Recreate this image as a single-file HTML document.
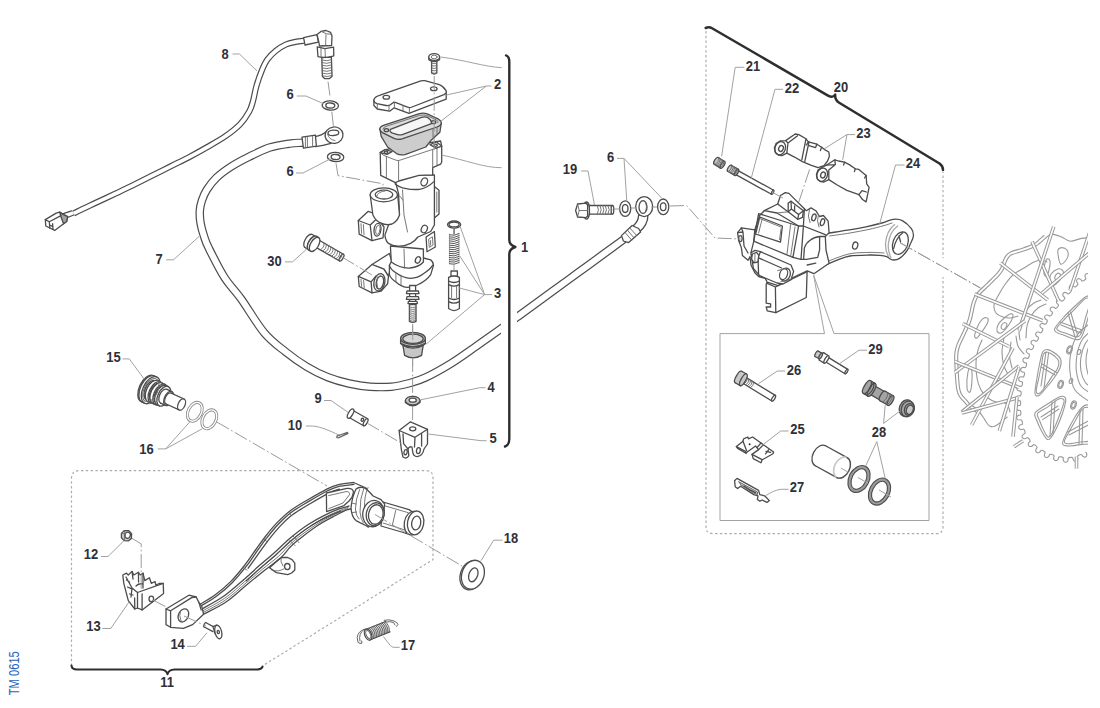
<!DOCTYPE html>
<html lang="en"><head><meta charset="utf-8"><title>Rear brake system - TM 0615</title>
<style>
html,body{margin:0;padding:0;background:#fff}
body{width:1100px;height:708px;overflow:hidden}
svg{display:block}
text{font-family:"Liberation Sans",sans-serif;font-weight:bold;font-size:13.8px;fill:#2e3138}
.o{fill:#fff;stroke:#4c4c4c;stroke-width:1.3;stroke-linejoin:round;stroke-linecap:round}
.l{fill:none;stroke:#4c4c4c;stroke-width:1.3;stroke-linejoin:round;stroke-linecap:round}
.t{fill:none;stroke:#686868;stroke-width:.9;stroke-linejoin:round;stroke-linecap:round}
.g{fill:#c9c9c9;stroke:#4c4c4c;stroke-width:1.3;stroke-linejoin:round}
.g2{fill:#a4a4a4;stroke:#4c4c4c;stroke-width:1.3;stroke-linejoin:round}
.ld{fill:none;stroke:#a2a2a2;stroke-width:1}
.cl{fill:none;stroke:#9a9a9a;stroke-width:1;stroke-dasharray:14 2.6 1.6 2.6}
.dt{fill:none;stroke:#acacac;stroke-width:1.2;stroke-dasharray:2.4 2.4}
.bk{fill:none;stroke:#2e2e2e;stroke-width:2.5;stroke-linejoin:round;stroke-linecap:round}
.w{fill:none;stroke:#999;stroke-width:1.1;stroke-linejoin:round;stroke-linecap:round}
.ww{fill:#fff;stroke:#999;stroke-width:1.1;stroke-linejoin:round}
.tm{font-weight:normal;font-size:14px;fill:#2563b8}
</style></head><body>
<svg width="1100" height="708" viewBox="0 0 1100 708">
<rect width="1100" height="708" fill="#fff"/>
<g id="parts_wheel">
<clipPath id="wc"><rect x="940" y="200" width="148" height="280"/></clipPath>
<g clip-path="url(#wc)">
<path class="w" d="M1090,237.4C1088.6,237.6 1084.7,237.8 1081.4,238.4C1078.1,239 1073.4,241.4 1070.1,241.2C1066.8,240.9 1064.7,238.1 1061.6,236.9C1058.5,235.7 1054.3,234 1051.7,234.1C1049.1,234.2 1048,236.2 1046,237.7C1044,239.2 1041.9,241.5 1040,243C1038.1,244.5 1037.5,245.5 1034.7,246.8C1031.9,248.2 1027.2,249.8 1023.4,251.1C1019.6,252.4 1014.6,253.5 1012.1,254.6C1009.6,255.7 1009.3,256.5 1008.4,257.6C1007.5,258.7 1007.3,259.1 1006.5,261C1005.7,262.9 1004.8,266.6 1003.6,269C1002.4,271.4 1001.2,273 999.4,275.1C997.6,277.2 994.9,279.7 993,281.6C991.1,283.5 990.6,283.9 988.1,286.4C985.6,288.8 980.4,293.2 978.2,296.3C976,299.4 975.9,300.8 974.7,304.7C973.5,308.6 972.7,315.3 971.2,320C969.7,324.7 967.6,328.8 965.7,333C963.8,337.2 961.3,341.5 960,345C958.7,348.5 958.1,350.5 957.8,354C957.5,357.5 957.9,362 958,366C958.1,370 958.3,374.1 958.6,378C958.9,381.9 959.2,386.5 959.8,389.3C960.4,392.1 961,393.4 962,395C963,396.6 964.5,397.9 965.7,399.2C966.9,400.5 967.9,401.9 969,403C970.1,404.1 971.1,404.8 972.6,406C974.1,407.2 976.3,408.2 978,410C979.7,411.8 981.4,414.7 983,417C984.6,419.3 986.2,422.4 987.5,424C988.8,425.6 989.7,426.3 991,426.6C992.3,426.9 993.7,426.8 995.4,426C997.1,425.2 999,423.5 1001,422C1003,420.5 1006.2,417.8 1007.2,417"/>
<path class="w" d="M1044,235.5C1043,236.3 1039.9,239.2 1038.1,240.7C1036.3,242.1 1036,242.8 1033.4,244.1C1030.8,245.4 1026.2,247 1022.4,248.3C1018.7,249.6 1013.6,250.6 1010.9,251.8C1008.2,253.1 1007.3,254.3 1006.1,255.6C1004.9,257 1004.6,257.8 1003.7,259.8C1002.9,261.8 1002,265.4 1000.9,267.7C999.8,269.9 998.8,271.2 997.1,273.2C995.4,275.1 992.7,277.6 990.9,279.5C989,281.3 988.5,281.8 986,284.3C983.5,286.8 978.1,291.3 975.8,294.5C973.4,297.8 973.1,299.8 971.8,303.9C970.6,307.9 969.8,314.4 968.3,319.1C966.9,323.7 964.8,327.6 963,331.8C961.1,335.9 958.6,340.3 957.2,343.9C955.8,347.6 955.2,350 954.8,353.7C954.4,357.4 954.9,362 955,366.1C955.1,370.2 955.3,374.3 955.6,378.2C955.9,382.2 956.2,386.8 956.9,389.9C957.5,392.9 958.3,394.7 959.4,396.5C960.5,398.4 962.2,399.7 963.4,401.2C964.7,402.6 965.7,403.9 966.9,405.1C968.1,406.3 969.2,407.2 970.8,408.4C972.3,409.6 975.3,411.7 976.2,412.4"/>
<path class="w" d="M1047,262C1046,261.7 1043.2,260 1041,260C1038.8,260 1036.8,260.7 1034,262C1031.2,263.3 1027.3,266 1024,268C1020.7,270 1017,271.5 1014,274C1011,276.5 1008.7,279.3 1006,283C1003.3,286.7 1000,292.3 998,296C996,299.7 994.3,302.2 994,305C993.7,307.8 994.5,311 996,313C997.5,315 1000.5,316.2 1003,317C1005.5,317.8 1008.5,318.2 1011,318C1013.5,317.8 1016.8,316.3 1018,316"/>
<path class="w" d="M982,340C981.3,341.7 979,346.3 978,350C977,353.7 976.2,357.3 976,362C975.8,366.7 976.2,373.3 977,378C977.8,382.7 979.2,386.7 981,390C982.8,393.3 985.5,396 988,398C990.5,400 993.5,401.3 996,402C998.5,402.7 1001,401.3 1003,402C1005,402.7 1006.8,404.3 1008,406C1009.2,407.7 1009.7,411 1010,412"/>
<path class="w" d="M1058,250C1058.6,248.3 1060.5,247.6 1062,247.6C1063.5,247.6 1066,248.6 1067,250C1068,251.4 1068.4,254 1068,256C1067.6,258 1065.8,260.7 1064.6,262C1063.4,263.3 1061.6,264.7 1060.6,264C1059.6,263.3 1059,260.3 1058.6,258C1058.2,255.7 1057.4,251.7 1058,250Z"/>
<path class="w" d="M1047,259C1047.9,258.3 1049.7,259.2 1050,261C1050.3,262.8 1049.6,267.5 1049,270C1048.4,272.5 1047.4,275.3 1046.6,276C1045.8,276.7 1044.3,275.8 1044,274C1043.7,272.2 1044.1,267.5 1044.6,265C1045.1,262.5 1046.1,259.7 1047,259Z"/>
<path class="w" d="M980,322C981.2,320.2 982.7,318.6 984,318C985.3,317.4 987.5,317.6 988,318.6C988.5,319.6 988.2,321.6 987,324C985.8,326.4 982.7,330.7 981,333C979.3,335.3 978.1,337.5 977,338C975.9,338.5 974.7,337.5 974.6,336C974.5,334.5 975.7,331.3 976.6,329C977.5,326.7 978.8,323.8 980,322Z"/>
<path class="w" d="M1002,320C1004,318.2 1008.2,314.7 1010,314C1011.8,313.3 1013.3,314 1013,316C1012.7,318 1010,323.2 1008,326C1006,328.8 1002.8,332.2 1001,333C999.2,333.8 997.5,332.3 997,331C996.5,329.7 997.2,326.8 998,325C998.8,323.2 1000,321.8 1002,320Z"/>
<ellipse class="w" cx="1004" cy="326" rx="2.4" ry="3.6" transform="rotate(30 1004 326)"/>
<path class="w" d="M1051,274C1052.4,272.2 1056,269.5 1058,269C1060,268.5 1062.3,269.7 1063,271C1063.7,272.3 1063.2,274.8 1062,277C1060.8,279.2 1057.8,282.7 1056,284C1054.2,285.3 1052.1,285.7 1051,285C1049.9,284.3 1049.6,281.8 1049.6,280C1049.6,278.2 1049.6,275.8 1051,274Z"/>
<ellipse class="w" cx="1057.6" cy="276.6" rx="2.4" ry="3.6" transform="rotate(30 1057.6 276.6)"/>
<path class="w" d="M968,372C968.7,368.7 970.3,366.7 971,368C971.7,369.3 972.2,376 972,380C971.8,384 970.8,390.7 970,392C969.2,393.3 967.3,391.3 967,388C966.7,384.7 967.3,375.3 968,372Z"/>
<path class="w" d="M1041,300C1039.8,300.5 1036.3,301.5 1034,303C1031.7,304.5 1029,306.5 1027,309C1025,311.5 1023.3,314.5 1022,318C1020.7,321.5 1019.3,326.3 1019,330C1018.7,333.7 1019.8,338.3 1020,340"/>
<path class="w" d="M1046,304C1044.7,304.7 1040.5,306 1038,308C1035.5,310 1032.8,313 1031,316C1029.2,319 1027.8,322.3 1027,326C1026.2,329.7 1026.2,336 1026,338"/>
<path class="w" d="M1016,336C1016.3,337.7 1016.7,343 1018,346C1019.3,349 1023,352.7 1024,354"/>
<path class="w" d="M1004,338C1003.7,340.3 1002,347.3 1002,352C1002,356.7 1003,362.3 1004,366C1005,369.7 1007.3,372.7 1008,374"/>
<path class="w" d="M1011,342C1010.8,344.3 1009.4,351.7 1009.6,356C1009.8,360.3 1011.6,366 1012,368"/>
<path class="w" d="M1090,276C1088.5,271.4 1083.1,274 1085.7,278.1C1087,279.1 1081.9,282.2 1081.6,280.6C1079.2,276.4 1074.4,279.9 1077.7,283.4C1079.2,284.2 1074.8,288.2 1074.2,286.6C1071.1,282.9 1067,287.2 1070.8,290.1C1072.4,290.8 1068.4,295.2 1067.6,293.7C1064.4,290.1 1060.5,294.6 1064.5,297.3C1066.1,297.9 1062.2,302.4 1061.3,300.9C1058.1,297.3 1054.2,301.7 1058.1,304.5C1059.7,305.1 1055.9,309.7 1055,308.2C1051.7,304.7 1047.9,309.4 1052,311.9C1053.7,312.4 1050.3,317.2 1049.3,315.8C1045.5,312.9 1042.4,318 1046.8,319.9C1048.5,320.2 1045.6,325.4 1044.5,324.2C1040.5,321.4 1037.8,326.7 1042.3,328.4C1044,328.6 1041.4,334 1040.2,332.7C1036.1,330.1 1033.5,335.4 1038,337C1039.7,337.3 1036.8,342.5 1035.7,341.2C1031.9,338.2 1028.8,343.3 1033.2,345.3C1034.9,345.6 1031.9,350.8 1030.8,349.5C1026.7,346.9 1024.2,352.3 1028.7,353.8C1030.5,353.8 1028.4,359.4 1027.1,358.3C1022.7,356.4 1021,362.1 1025.7,362.9C1027.5,362.7 1026.1,368.5 1024.6,367.6C1020.1,366.1 1018.9,371.9 1023.7,372.3C1025.4,372.1 1024.1,377.9 1022.7,377C1018.1,375.4 1016.9,381.2 1021.7,381.7C1023.4,381.4 1022.2,387.3 1020.8,386.4C1016.1,385.2 1015.3,391.1 1020.1,391.1C1021.8,390.7 1021.3,396.6 1019.7,395.9C1014.9,395.1 1014.7,401.1 1019.5,400.7C1021.1,400.2 1021,406.1 1019.4,405.5C1014.6,405.1 1014.7,411 1019.5,410.3C1021,409.6 1021.6,415.5 1019.9,415.1C1015.1,415.2 1016,421.1 1020.6,419.8C1022.1,418.9 1023.3,424.8 1021.6,424.5C1016.9,425.2 1018.4,431 1022.8,429.2C1024.2,428.1 1026.1,433.7 1024.4,433.7C1019.9,435.5 1022.8,440.7 1026.7,437.9C1027.6,436.5 1031.3,441.1 1029.7,441.7C1025.9,444.6 1030.1,448.8 1033.1,445.1C1033.7,443.4 1038.3,447.2 1036.8,448.1C1033.6,451.7 1038.5,455.1 1040.8,450.8C1041,449.1 1046.3,452 1045,453.1C1042.6,457.3 1048,459.6 1049.4,455C1049.4,453.3 1055,455.1 1054,456.5C1052.2,461 1057.9,462.5 1058.6,457.7C1058.3,456 1064.2,457 1063.3,458.5C1062.5,463.3 1068.4,463.6 1068.1,458.8C1067.4,457.2 1073.3,456.8 1072.9,458.4C1073.6,463.2 1079.3,461.6 1077.5,457.2C1076.3,456 1081.7,453.4 1081.9,455.1C1084.1,459.4 1089,456 1085.8,452.4"/>
<path class="w" d="M1054.7,328.7C1055.7,326.3 1059.8,321.6 1063,318C1066.2,314.4 1070.3,310.5 1074,307C1077.7,303.5 1082.7,298.8 1085.4,297C1088.1,295.2 1088.9,295.5 1090,296C1091.1,296.5 1092.3,296.3 1092,300C1091.7,303.7 1089.7,312 1088,318C1086.3,324 1083.9,332.4 1082,336C1080.1,339.6 1079.2,339.6 1076.5,339.6C1073.8,339.6 1069.2,337.2 1066,336C1062.8,334.8 1058.9,333.8 1057,332.6C1055.1,331.4 1053.7,331.1 1054.7,328.7Z"/>
<path class="w" d="M1057.1,327.6C1058.1,325.5 1062.7,321.2 1065.6,318.2C1068.5,315.2 1071.2,312.7 1074.3,309.6C1077.4,306.4 1081.9,301.3 1084.3,299.4C1086.7,297.5 1087.6,297.8 1088.6,298.2C1089.6,298.6 1090.8,298.6 1090.3,302C1089.8,305.3 1086.9,312.9 1085.4,318.2C1083.9,323.5 1082.6,330.4 1081.1,333.6C1079.5,336.7 1078.7,337 1076.4,337C1074.1,337 1070.1,334.7 1067.3,333.7C1064.4,332.7 1060.8,332.1 1059.1,331C1057.4,330 1056,329.7 1057.1,327.6Z"/>
<path class="w" d="M1035,393.3C1034.7,390.4 1036.2,383.2 1037,378C1037.8,372.8 1039,366.4 1040,362C1041,357.6 1041.5,353.9 1042.8,351.8C1044.1,349.7 1045.6,349.2 1047.8,349.6C1050,350 1053.8,352.3 1056,354C1058.2,355.7 1060.1,357.4 1060.8,359.7C1061.5,362 1061.1,364.9 1060,368C1058.9,371.1 1056.3,374.7 1054,378C1051.7,381.3 1048.5,385.1 1046,388C1043.5,390.9 1040.7,394.7 1038.9,395.6C1037.1,396.5 1035.3,396.2 1035,393.3Z"/>
<path class="w" d="M1036.2,391C1036.1,388.2 1038.2,381 1039.1,376.5C1040,372 1040.9,367.7 1041.6,364C1042.4,360.3 1042.4,356.3 1043.4,354.3C1044.4,352.4 1045.8,351.9 1047.7,352.2C1049.6,352.5 1052.9,354.8 1054.8,356.3C1056.6,357.8 1058.3,359.3 1058.8,361.3C1059.2,363.4 1058.6,366.1 1057.5,368.5C1056.4,371 1054.1,373.3 1052.2,376.1C1050.3,378.9 1048.3,382.6 1046.2,385.4C1044.1,388.2 1041.4,392.2 1039.7,393.1C1038.1,394.1 1036.3,393.8 1036.2,391Z"/>
<path class="w" d="M1035,413C1036.6,410.5 1042,407.6 1046,405C1050,402.4 1055.7,398.6 1058.7,397.2C1061.7,395.8 1062.8,396.1 1064,396.6C1065.2,397.1 1066,397.3 1065.8,400C1065.6,402.7 1064.1,408.5 1062.6,413C1061.1,417.5 1059,422.9 1057,427C1055,431.1 1052.5,435.8 1050.8,437.8C1049.1,439.8 1048.4,440.3 1046.8,439C1045.2,437.7 1042.7,433.2 1041,430C1039.3,426.8 1037.6,422.8 1036.6,420C1035.6,417.2 1033.4,415.5 1035,413Z"/>
<path class="w" d="M1037.6,413.5C1038.9,411.5 1043.7,409.7 1047.1,407.4C1050.5,405 1055.2,401.1 1057.8,399.6C1060.3,398.2 1061.5,398.4 1062.6,398.8C1063.6,399.2 1064.5,399.5 1064.1,401.9C1063.7,404.4 1061.5,409.9 1060.1,413.7C1058.7,417.5 1057.3,421.1 1055.8,424.7C1054.2,428.3 1052.3,433.2 1050.9,435.2C1049.4,437.2 1048.7,437.7 1047.3,436.4C1045.9,435.2 1043.9,430.8 1042.6,427.9C1041.2,425.1 1040,421.8 1039.1,419.4C1038.3,417 1036.2,415.5 1037.6,413.5Z"/>
<path class="w" d="M1062.6,442.7C1062.8,440.1 1065.9,434.3 1068,430C1070.1,425.7 1072.6,420.8 1075,417C1077.4,413.2 1080.2,409 1082.4,407C1084.6,405 1086.1,404.5 1088,405C1089.9,405.5 1093,404.2 1094,410C1095,415.8 1096.3,434.2 1094,440C1091.7,445.8 1084.6,443.6 1080,444.6C1075.4,445.6 1069.5,446.2 1066.6,445.9C1063.7,445.6 1062.4,445.3 1062.6,442.7Z"/>
<path class="w" d="M1064.5,440.9C1064.9,438.5 1068.6,432.9 1070.5,429.3C1072.4,425.7 1074.1,422.7 1076,419.4C1077.9,416.1 1080.1,411.6 1082,409.6C1083.8,407.6 1085.3,407 1087,407.4C1088.7,407.8 1091.4,406.8 1092.3,411.9C1093.1,417.1 1094.1,433.3 1092,438.3C1090,443.3 1083.9,441.1 1079.8,442C1075.8,442.9 1070.6,443.9 1068,443.7C1065.5,443.5 1064.1,443.3 1064.5,440.9Z"/>
<path class="w" d="M1060,322 L1082,330 M1061,325 L1081,333 M1068,313 L1075,337 M1070.6,312 L1078,336.6 M1041,367 L1055,375 M1042,364 L1056.6,372.4 M1046,352 L1041,386 M1048.6,353 L1044,388 M1041,417 L1058,406 M1042.6,419.6 L1059,409 M1052,402 L1050,436 M1055,401 L1053,434 M1068,432 L1090,420 M1069,435 L1090,424 M1080,410 L1079,444 M1083,409 L1082,444"/>
<ellipse class="w" cx="1069.5" cy="349.8" rx="2.6" ry="4.2" transform="rotate(20 1069.5 349.8)"/>
<ellipse class="w" cx="1069.5" cy="349.8" rx="1.6" ry="3" transform="rotate(20 1069.5 349.8)"/>
<ellipse class="w" cx="1060.6" cy="384.4" rx="2.6" ry="4.2" transform="rotate(20 1060.6 384.4)"/>
<ellipse class="w" cx="1060.6" cy="384.4" rx="1.6" ry="3" transform="rotate(20 1060.6 384.4)"/>
<ellipse class="w" cx="1073.5" cy="405" rx="2.6" ry="4.2" transform="rotate(20 1073.5 405)"/>
<ellipse class="w" cx="1073.5" cy="405" rx="1.6" ry="3" transform="rotate(20 1073.5 405)"/>
<ellipse class="w" cx="1079" cy="352" rx="1.6" ry="2.6" transform="rotate(20 1079 352)"/>
<ellipse class="w" cx="1071" cy="381" rx="1.6" ry="2.6" transform="rotate(20 1071 381)"/>
<path class="w" d="M1092,330C1090.3,331.7 1084.5,335.8 1082,340C1079.5,344.2 1077.9,349.7 1077,355C1076.1,360.3 1075.8,366.8 1076.5,372C1077.2,377.2 1078.4,382.3 1081,386C1083.6,389.7 1090.2,392.7 1092,394"/>
<path class="w" d="M1092,336C1090.8,337.3 1086.8,340.5 1085,344C1083.2,347.5 1081.7,352.5 1081,357C1080.3,361.5 1080.3,366.8 1081,371C1081.7,375.2 1083.2,379.2 1085,382C1086.8,384.8 1090.8,387 1092,388"/>
<path class="w" d="M1092,322C1089.7,324 1081.5,329 1078,334C1074.5,339 1072.3,345.7 1071,352C1069.7,358.3 1069.3,365.7 1070,372C1070.7,378.3 1071.7,385 1075,390C1078.3,395 1087.5,400 1090,402"/>
<path class="w" d="M1092,342C1091.3,343.3 1088.6,346.7 1087.6,350C1086.6,353.3 1085.9,358 1086,362C1086.1,366 1087,371 1088,374C1089,377 1091.3,379 1092,380"/>
<path d="M974.6,294 L1042.8,320.8" stroke="#999" stroke-width="3.6" fill="none"/>
<path d="M974.6,294 L1042.8,320.8" stroke="#fff" stroke-width="1.6" fill="none"/>
<path d="M1000.3,263 L1047.8,300" stroke="#999" stroke-width="3.6" fill="none"/>
<path d="M1000.3,263 L1047.8,300" stroke="#fff" stroke-width="1.6" fill="none"/>
<path d="M1032,241.6 L1058.7,301" stroke="#999" stroke-width="3.6" fill="none"/>
<path d="M1032,241.6 L1058.7,301" stroke="#fff" stroke-width="1.6" fill="none"/>
<path d="M1053.7,226.8 L1019,330.6" stroke="#999" stroke-width="3.6" fill="none"/>
<path d="M1053.7,226.8 L1019,330.6" stroke="#fff" stroke-width="1.6" fill="none"/>
<path d="M1090,231.6 L1070,290.6" stroke="#999" stroke-width="3.6" fill="none"/>
<path d="M1090,231.6 L1070,290.6" stroke="#fff" stroke-width="1.6" fill="none"/>
<path d="M1090,252.5 L1041.8,293.4" stroke="#999" stroke-width="3.6" fill="none"/>
<path d="M1090,252.5 L1041.8,293.4" stroke="#fff" stroke-width="1.6" fill="none"/>
<path d="M962.7,323.7 L1009,346.5" stroke="#999" stroke-width="3.6" fill="none"/>
<path d="M962.7,323.7 L1009,346.5" stroke="#fff" stroke-width="1.6" fill="none"/>
<path d="M1025,320.8 L954.8,372.5" stroke="#999" stroke-width="3.6" fill="none"/>
<path d="M1025,320.8 L954.8,372.5" stroke="#fff" stroke-width="1.6" fill="none"/>
<path d="M954.8,361.6 L1019,387.4" stroke="#999" stroke-width="3.6" fill="none"/>
<path d="M954.8,361.6 L1019,387.4" stroke="#fff" stroke-width="1.6" fill="none"/>
<path d="M1013,347.8 L971.6,425" stroke="#999" stroke-width="3.6" fill="none"/>
<path d="M1013,347.8 L971.6,425" stroke="#fff" stroke-width="1.6" fill="none"/>
<path d="M1019,366 L961.8,412" stroke="#999" stroke-width="3.6" fill="none"/>
<path d="M1019,366 L961.8,412" stroke="#fff" stroke-width="1.6" fill="none"/>
<path d="M1017,398 L961.8,413" stroke="#999" stroke-width="3.6" fill="none"/>
<path d="M1017,398 L961.8,413" stroke="#fff" stroke-width="1.6" fill="none"/>
<path d="M1019,367.6 L999.3,431" stroke="#999" stroke-width="3.6" fill="none"/>
<path d="M1019,367.6 L999.3,431" stroke="#fff" stroke-width="1.6" fill="none"/>
<path d="M1017,397 L1013,436.8" stroke="#999" stroke-width="3.6" fill="none"/>
<path d="M1017,397 L1013,436.8" stroke="#fff" stroke-width="1.6" fill="none"/>
<path d="M1023,440.8 L1014,446.7" stroke="#999" stroke-width="3.6" fill="none"/>
<path d="M1023,440.8 L1014,446.7" stroke="#fff" stroke-width="1.6" fill="none"/>
<path d="M1076.5,456.6 L1076.5,468.5" stroke="#999" stroke-width="3.6" fill="none"/>
<path d="M1076.5,456.6 L1076.5,468.5" stroke="#fff" stroke-width="1.6" fill="none"/>
</g>
</g>
<g id="parts_left">
<path d="M314,140.6C312.2,140.9 306.8,142.1 303,142.6C299.2,143.1 296.6,142.6 291,143.4C285.4,144.2 276.8,145.2 269.7,147.5C262.6,149.8 255.1,153.8 248.6,157C242.1,160.2 235.9,163.5 230.5,167C225.1,170.5 220.3,174 216.4,177.8C212.5,181.6 209.3,185.9 206.9,189.6C204.5,193.3 203.2,196.7 202,200.2C200.8,203.7 200,207 199.8,210.8C199.6,214.6 199.9,219.1 200.6,223.2C201.3,227.3 202.4,231.3 203.8,235.5C205.2,239.7 205.3,241.2 208.8,248.2C212.3,255.2 219.2,269.2 224.6,277.7C230,286.2 234.6,289.8 241.2,299C247.8,308.2 256.8,323.9 264.2,332.7C271.6,341.5 278.3,346 285.4,351.7C292.5,357.4 299.5,362.4 306.6,366.6C313.7,370.9 320.7,374.4 327.8,377.2C334.9,380 341.9,381.9 349,383.5C356.1,385.1 363.1,386.2 370.2,386.7C377.3,387.2 384.8,387.3 391.4,386.7C398,386.1 404.3,384.5 410,383C415.7,381.5 418.6,380.8 425.4,377.6C432.2,374.4 442.3,368.8 450.8,363.6C459.3,358.4 467.9,352 476.2,346.2C484.5,340.4 493.7,333.9 500.6,329C507.5,324.1 509,323 517.6,316.7C526.2,310.4 542.5,298.6 552.5,291.3C562.5,284 569.4,279 577.9,272.8C586.4,266.6 596.8,259.1 603.3,254.3C609.8,249.5 613.8,246.8 617.2,244.2C620.7,241.6 622.9,239.9 624,239" fill="none" stroke="#4c4c4c" stroke-width="8.5" stroke-linecap="butt"/>
<path d="M314,140.6C312.2,140.9 306.8,142.1 303,142.6C299.2,143.1 296.6,142.6 291,143.4C285.4,144.2 276.8,145.2 269.7,147.5C262.6,149.8 255.1,153.8 248.6,157C242.1,160.2 235.9,163.5 230.5,167C225.1,170.5 220.3,174 216.4,177.8C212.5,181.6 209.3,185.9 206.9,189.6C204.5,193.3 203.2,196.7 202,200.2C200.8,203.7 200,207 199.8,210.8C199.6,214.6 199.9,219.1 200.6,223.2C201.3,227.3 202.4,231.3 203.8,235.5C205.2,239.7 205.3,241.2 208.8,248.2C212.3,255.2 219.2,269.2 224.6,277.7C230,286.2 234.6,289.8 241.2,299C247.8,308.2 256.8,323.9 264.2,332.7C271.6,341.5 278.3,346 285.4,351.7C292.5,357.4 299.5,362.4 306.6,366.6C313.7,370.9 320.7,374.4 327.8,377.2C334.9,380 341.9,381.9 349,383.5C356.1,385.1 363.1,386.2 370.2,386.7C377.3,387.2 384.8,387.3 391.4,386.7C398,386.1 404.3,384.5 410,383C415.7,381.5 418.6,380.8 425.4,377.6C432.2,374.4 442.3,368.8 450.8,363.6C459.3,358.4 467.9,352 476.2,346.2C484.5,340.4 493.7,333.9 500.6,329C507.5,324.1 509,323 517.6,316.7C526.2,310.4 542.5,298.6 552.5,291.3C562.5,284 569.4,279 577.9,272.8C586.4,266.6 596.8,259.1 603.3,254.3C609.8,249.5 613.8,246.8 617.2,244.2C620.7,241.6 622.9,239.9 624,239" fill="none" stroke="#fff" stroke-width="6.1" stroke-linecap="butt"/>
<path d="M305.4,40.6C305.2,40.6 305.8,40.5 304.2,40.7C302.6,40.9 298.6,41.3 295.5,41.9C292.4,42.5 289.2,43 285.9,44.5C282.6,46 278.8,48.4 275.7,50.9C272.6,53.4 269.8,56.3 267.5,59.4C265.2,62.5 264.1,65 262.2,69.5C260.3,74 257.8,81.2 256.3,86.5C254.8,91.8 254.2,96.8 253,101C251.8,105.2 251.4,107.6 249.2,111.5C247,115.4 244,120.3 240,124.4C236,128.5 230.8,132.5 225.3,136.3C219.8,140.1 213,143.8 206.9,147.3C200.8,150.8 194.7,154.2 188.6,157.4C182.5,160.6 176.3,163.5 170.2,166.6C164.1,169.7 157.9,172.7 151.8,175.8C145.7,178.9 139.6,182 133.5,185C127.4,188 121.2,190.9 115.1,193.8C109,196.7 102.8,199.5 96.7,202.4C90.6,205.3 82.2,209.2 78.4,211.1C74.6,212.9 74.4,213.1 73.6,213.5" fill="none" stroke="#4c4c4c" stroke-width="6.2" stroke-linecap="butt"/>
<path d="M305.4,40.6C305.2,40.6 305.8,40.5 304.2,40.7C302.6,40.9 298.6,41.3 295.5,41.9C292.4,42.5 289.2,43 285.9,44.5C282.6,46 278.8,48.4 275.7,50.9C272.6,53.4 269.8,56.3 267.5,59.4C265.2,62.5 264.1,65 262.2,69.5C260.3,74 257.8,81.2 256.3,86.5C254.8,91.8 254.2,96.8 253,101C251.8,105.2 251.4,107.6 249.2,111.5C247,115.4 244,120.3 240,124.4C236,128.5 230.8,132.5 225.3,136.3C219.8,140.1 213,143.8 206.9,147.3C200.8,150.8 194.7,154.2 188.6,157.4C182.5,160.6 176.3,163.5 170.2,166.6C164.1,169.7 157.9,172.7 151.8,175.8C145.7,178.9 139.6,182 133.5,185C127.4,188 121.2,190.9 115.1,193.8C109,196.7 102.8,199.5 96.7,202.4C90.6,205.3 82.2,209.2 78.4,211.1C74.6,212.9 74.4,213.1 73.6,213.5" fill="none" stroke="#fff" stroke-width="3.8" stroke-linecap="butt"/>
<path class="l" d="M62.6,213.8 L71.6,210.9 M67.6,217.5 L73.8,215"/>
<path class="o" d="M45.3,219.6L56.2,213.1L59.7,212.1L62.6,214.1L67.6,216.6L66.6,221.5L54.7,230.4L45.8,226Z"/>
<path class="g2" d="M59.7,212.1L62.6,214.1L67.6,216.6L66.6,221.5L63.6,223.8L61,217Z"/>
<path class="l" d="M45.3,219.6 L49.3,221.8 L61,215.6 M49.3,221.8 L49.8,228 M52.6,223.6 L53,229.4 M49.8,225 L52.8,226.6"/>
<path class="o" d="M303.6,37.6L317,34.6L318.4,42.2L305,45Z"/>
<path class="o" d="M317,34.4L321,31.4L326,30.5L330.6,32.4L332,36L331.6,45.5L319.5,46L318.8,42Z"/>
<path class="t" d="M321,31.4 Q326,34.6 331.8,34.4 M326,34.6 L325.6,45.5"/>
<path class="o" d="M317.2,46.8L325,48.6L333.6,47.2L333.8,55.8L325.4,58.2L318,56.6Z"/>
<path class="t" d="M325,48.6 L325.4,58.2 M321,47.7V57.3"/>
<path class="o" d="M321.8,57.5L331.4,57.2L332,76.5L329.5,78.6L324.6,78.6L322.4,76.6Z"/>
<path class="t" d="M321.7,60 Q326.7,61.8 331.5,59.7M321.8,62.6 Q326.8,64.4 331.6,62.3M321.9,65.3 Q326.9,67.1 331.7,64.9M322,67.9 Q327,69.7 331.8,67.6M322.1,70.6 Q327,72.4 331.9,70.2M322.2,73.2 Q327.1,75 332,72.9M322.3,75.8 Q327.2,77.6 332.1,75.5"/>
<ellipse class="o" cx="330.3" cy="105.5" rx="8.2" ry="4.6" transform="rotate(4 330.3 105.5)"/>
<ellipse class="o" cx="330.3" cy="105.5" rx="4.5" ry="2.5" transform="rotate(4 330.3 105.5)"/>
<ellipse class="o" cx="335.6" cy="157" rx="8.2" ry="4.6" transform="rotate(4 335.6 157)"/>
<ellipse class="o" cx="335.6" cy="157" rx="4.5" ry="2.5" transform="rotate(4 335.6 157)"/>
<path class="o" d="M315,136.6 C320,136 324,133.6 327,131 L331,143.4 C325,145 320,146 315.6,146.6Z"/>
<path class="o" d="M302,137.2L315.4,135.2L316.4,146.2L303.4,148.2Z"/>
<path class="t" d="M305.4,137V147.6 M307.4,136.8V147.4 M312.6,136V146.6"/>
<ellipse class="o" cx="334" cy="135.2" rx="9" ry="8.2" transform="rotate(-8 334 135.2)"/>
<ellipse class="o" cx="333.4" cy="132.8" rx="5.4" ry="2.7" transform="rotate(-4 333.4 132.8)"/>
<path class="t" d="M327.6,134 Q328.6,139.6 335,140.6"/>
<ellipse class="o" cx="316.5" cy="243.2" rx="1.6" ry="3.9" transform="rotate(29.8 316.5 243.2)"/>
<path class="o" d="M314.6,246.6 L339.7,261 L343.5,254.2 L318.4,239.8Z" style="stroke:none"/>
<path class="l" d="M314.6,246.6 L339.7,261 M318.4,239.8 L343.5,254.2"/>
<ellipse class="o" cx="341.6" cy="257.6" rx="1.6" ry="3.9" transform="rotate(29.8 341.6 257.6)"/>
<path class="t" d="M320.2,249.8 Q324.5,247.8 324.1,243.1M322.4,251.1 Q326.7,249.1 326.3,244.4M324.7,252.4 Q329,250.4 328.6,245.6M326.9,253.7 Q331.2,251.7 330.8,246.9M329.2,255 Q333.5,253 333,248.2M331.4,256.3 Q335.7,254.2 335.3,249.5M333.6,257.6 Q338,255.5 337.5,250.8M335.9,258.8 Q340.2,256.8 339.8,252.1M338.1,260.1 Q342.4,258.1 342,253.4"/>
<ellipse class="o" cx="308.6" cy="241" rx="3.7" ry="7.4" transform="rotate(29.1 308.6 241)"/>
<path class="o" d="M305,247.5 L308.6,249.5 L315.8,236.5 L312.2,234.5Z" style="stroke:none"/>
<path class="l" d="M305,247.5 L308.6,249.5 M312.2,234.5 L315.8,236.5"/>
<ellipse class="o" cx="312.2" cy="243" rx="3.7" ry="7.4" transform="rotate(29.1 312.2 243)"/>
<ellipse class="o" cx="312.6" cy="243.2" rx="4" ry="7.9" transform="rotate(31 312.6 243.2)"/>
<path class="o" d="M308.5,250 L310.5,251.2 L318.7,237.6 L316.7,236.4Z" style="stroke:none"/>
<path class="l" d="M308.5,250 L310.5,251.2 M316.7,236.4 L318.7,237.6"/>
<ellipse class="o" cx="314.6" cy="244.4" rx="4" ry="7.9" transform="rotate(31 314.6 244.4)"/>
<ellipse class="o" cx="590" cy="209.8" rx="1.3" ry="4.3"/>
<path class="o" d="M590,214.1 L612.5,214.1 L612.5,205.5 L590,205.5Z" style="stroke:none"/>
<path class="l" d="M590,214.1 L612.5,214.1 M590,205.5 L612.5,205.5"/>
<ellipse class="o" cx="612.5" cy="209.8" rx="1.3" ry="4.3"/>
<path class="t" d="M597.3,214.1 Q599.9,209.8 597.3,205.5M600,214.1 Q602.6,209.8 600,205.5M602.7,214.1 Q605.2,209.8 602.7,205.5M605.3,214.1 Q607.9,209.8 605.3,205.5M608,214.1 Q610.6,209.8 608,205.5M610.7,214.1 Q613.2,209.8 610.7,205.5"/>
<ellipse class="o" cx="586.5" cy="210.6" rx="3" ry="8.6"/>
<path class="o" d="M577.6,204L586,203.2L587.6,205L587.6,216L586,217.6L577.6,217L575.6,210.5Z"/>
<path class="t" d="M577.6,204 L579.2,210.5 L577.6,217 M579.2,210.5 H587.6"/>
<ellipse class="o" cx="625.2" cy="208.6" rx="5.6" ry="7.8"/>
<ellipse class="o" cx="625.2" cy="208.6" rx="2.8" ry="3.9"/>
<ellipse class="o" cx="663.2" cy="206.8" rx="5.6" ry="7.8"/>
<ellipse class="o" cx="663.2" cy="206.8" rx="2.8" ry="3.9"/>
<path class="o" d="M638.6,215 C638.6,220 636,224 631.6,227 L638.6,232.6 C645,228 648,222 648,214.6Z"/>
<path class="o" d="M621.5,235.6L632.1,225.5L638.6,228.5L640.6,232L628.6,242.6L623.4,241Z"/>
<path class="t" d="M625,232.4 L631.6,240 M627.4,230.2 L634,237.8 M629.8,228 L636.6,235.4"/>
<ellipse class="o" cx="644.2" cy="206.6" rx="8.5" ry="10"/>
<ellipse class="o" cx="643" cy="207" rx="4" ry="6.4"/>
<path class="t" d="M645.6,202 Q647.6,207 645.6,212"/>
</g>
<g id="parts_mc">
<path class="o" d="M372,264.5 L389.4,253.5 L392,262 L388.5,276.4 L383.9,269.1Z"/>
<path class="o" d="M391.3,261.7 L389.4,265.4 L389.4,274.6 Q391,279 395.9,281.9 Q401,286.4 406.9,287.4 Q414,287.4 419.7,283.8 Q427,280 430.7,274.6 L433.5,265.4 Q433,261.5 430.7,259.9 L423.4,258 Z"/>
<path class="l" d="M389.4,265.4 Q391,270 395.9,272.8 Q403,278 410.6,278.3 Q418,278 423.4,273.7 Q430,269.6 432.6,265.4"/>
<path class="t" d="M395.9,273 V281.6 M401,276.6 V285"/>
<path class="o" d="M390.4,246 L391.3,262 Q400,268.5 410,268 Q419,267 423.4,262 L423.4,249 Z"/>
<path class="t" d="M404,249 L404.6,268"/>
<ellipse class="o" cx="417.9" cy="259.9" rx="2.4" ry="3.4" transform="rotate(25 417.9 259.9)"/>
<path class="o" d="M426.1,237 L434.4,231.5 L435.3,247 L427,251.7Z"/>
<path class="t" d="M429,239 L432.4,236.8 L433,245 L429.6,247.2Z M430.6,240.5 V245"/>
<path class="o" d="M434.4,186.5 L439,190.2 V214 L434.4,218Z"/>
<path class="t" d="M436.8,192 V212"/>
<path class="o" d="M395,180 L398.6,193.9 L399.5,215 L388.5,225 L384.9,235.1 Q385.6,241 388.5,243.4 Q392.6,246 397.7,246.1 Q404.6,246.5 410.6,243.4 Q415,241 417.9,237 L430.7,231.5 L434.4,225 L434.4,175 L419,174 Z"/>
<path class="l" d="M395,183.8 Q400,188 405,188.3 Q412,190 419.7,189.3 Q428,187.6 433.5,181.9"/>
<path class="t" d="M402.5,190 L404,215 L407.5,232 M399.5,196 Q401.6,197 402.6,200"/>
<ellipse class="o" cx="424.3" cy="181.9" rx="3.1" ry="4.2" transform="rotate(25 424.3 181.9)"/>
<ellipse class="o" cx="424.3" cy="229" rx="2.9" ry="3.9" transform="rotate(25 424.3 229)"/>
<path class="o" d="M380.2,152.6 L385.2,149.6 L440.6,141 L441.7,146.2 L441.7,162 L440.6,164.2 L432.7,167.6 L432.7,175 L419,175.4 L398.8,181 L395.4,182.6 L380.7,175.4 Z"/>
<path class="t" d="M380.2,152.8 L384,155.5 L396,160.2 Q398,161 400.5,160 L439.4,147.2 L441.7,146.2 M386.4,156.6 V177.6 M398.6,161 V180.8 M432.7,149.6 V167.6 M437,148 V165.8"/>
<path class="o" d="M380.2,152.6 L385.2,149.6 L392,151.6 L387,154.4 Z M430,144.6 L436.4,142 L441.7,146 L436,148.2Z"/>
<ellipse class="o" cx="386" cy="152.2" rx="1.8" ry="1.1"/>
<ellipse class="o" cx="435.6" cy="145.2" rx="1.8" ry="1.1"/>
<path class="o" d="M358.3,220.5 L368.3,211.3 L374,213.5 L384,227 L383,237.9 L372,240.6 L359.2,234.2 Z"/>
<path class="l" d="M358.3,220.5 L370.2,225 L372,240.6 M370.2,225 L376,219.5"/>
<path class="t" d="M361,223.6 L361.6,233.4 M363.4,224.6 L364,234.6"/>
<ellipse class="o" cx="377.5" cy="229.8" rx="3.4" ry="6.4" transform="rotate(8 377.5 229.8)"/>
<ellipse class="t" cx="377.9" cy="229.9" rx="2.1" ry="4.6" transform="rotate(8 377.9 229.9)"/>
<path class="o" d="M370.2,195 L372.9,215 Q376,221.5 381.2,223.2 Q386,225.6 392,224 Q397,222 399.5,215 L397.7,195 Z"/>
<ellipse class="o" cx="383.8" cy="194.8" rx="13.6" ry="7"/>
<ellipse class="o" cx="384" cy="194.6" rx="8.8" ry="4.4"/>
<path class="t" d="M376.6,196.5 Q378,191.5 385,191"/>
<path class="o" d="M358.3,276.4 L372,264.5 L383.9,269.1 L388.5,276.4 L387.6,283.8 L381.2,291.1 L372,292.9 L359.2,286.5 Z"/>
<path class="l" d="M358.3,276.4 L371.1,281.9 L372,292.9 M371.1,281.9 L376,276"/>
<path class="t" d="M361,279.4 L361.6,286.4 M363.6,280.5 L364.2,287.6"/>
<ellipse class="o" cx="379.4" cy="282.3" rx="5.4" ry="8.8" transform="rotate(12 379.4 282.3)"/>
<ellipse class="o" cx="379.9" cy="282.5" rx="3.6" ry="6.6" transform="rotate(12 379.9 282.5)"/>
<path class="t" d="M377.4,277 Q376,282 377.6,287.6"/>
<path class="g" d="M379.8,128.6 L381.2,136.4 L387.6,147 L396.5,153.6 Q400.3,155.6 405,154.6 L425.8,147 L431.4,139.9 L439.9,132.2 L441.3,123 Z" style="fill:#cdcdcd"/>
<path class="g" d="M379.8,128.8 Q380,126.6 383.4,125.4 L419.4,113.6 Q423.4,112.6 427.2,113.8 L438.5,119.2 Q441.6,121 441.3,123.4 Q441,125.6 437,127 L402,138.8 Q398,140 394,138.4 L382.4,132.6 Q379.8,131 379.8,128.8Z" style="fill:#dcdcdc"/>
<path class="o" d="M390.4,129.3 L421.5,117.3 Q425,116.4 427.6,117.4 L430,119.5 Q432,121.6 431.4,123.7 L403,134.4 Q400.3,135.4 397.6,134.6 L391.8,132.9 Q389,131 390.4,129.3Z" style="fill:#f6f6f6"/>
<path class="t" d="M383,129 Q383,127.4 386,126.4 L419.6,115.4 Q423.4,114.6 426.6,115.4 L436.6,120 Q438.6,121.4 438,122.8"/>
<ellipse class="g" cx="386.4" cy="130.2" rx="2.2" ry="1.5"/>
<ellipse class="g" cx="433.6" cy="122.2" rx="2.2" ry="1.5"/>
<path class="t" d="M433,128.6 V137 M437,127.4 V134"/>
<path class="o" d="M373.9,99.9 L373.9,105.5 L377.3,109 L389.7,111.2 L394.2,107.8 L408.9,113.4 L446.2,99.2 L446.2,92 Z"/>
<path class="o" d="M373.9,99.9 Q374.5,97 379.5,95.4 L418,81.8 Q421.5,80.4 424.7,80.7 L439.4,84.7 Q443,86 446.2,90.8 Q447,93.2 444,94.6 L412,107 Q409.6,108 407.5,107.2 L396,102.6 Q394,101.8 392.6,103 L390.4,104.8 Q388.6,106 386,105.5 L377,103.6 Q374,102.6 373.9,99.9Z"/>
<path class="t" d="M377.3,103.8 V109 M389,105.6 V111 M394.4,102.4 V107.8 M409.4,108 V113.2 M403,105.4V111"/>
<ellipse class="o" cx="386.3" cy="97.2" rx="3.3" ry="1.9"/>
<ellipse class="o" cx="433.8" cy="88.8" rx="3.3" ry="1.9"/>
<path class="o" d="M431.6,60 V73 Q434.2,75 436.8,73 V60Z"/>
<path class="t" d="M431.6,63.2 Q434.2,64.2 436.8,63.2M431.6,65.6 Q434.2,66.6 436.8,65.6M431.6,68 Q434.2,69 436.8,68M431.6,70.4 Q434.2,71.4 436.8,70.4M431.6,72.8 Q434.2,73.8 436.8,72.8"/>
<path class="o" d="M428.8,57 V59.6 Q434.2,63.4 439.6,59.6 V57Z"/>
<ellipse class="o" cx="434.2" cy="57" rx="5.4" ry="3.4"/>
<ellipse class="t" cx="434.2" cy="57" rx="3" ry="1.8"/>
<path class="o" d="M409.6,285.5 H415.6 V304.7 H409.6Z"/>
<path class="o" d="M407,291 H418.4 L419,293.6 H406.4Z M407,296.6 H418.4 L419,299.4 H406.4Z M408.4,301.4 H417 L417.4,303.6 H408Z"/>
<path class="o" d="M409.4,304.6 H416 V321.4 Q412.7,323.4 409.4,321.4Z"/>
<path class="t" d="M409.4,307 Q412.7,308.3 416,307M409.4,308.9 Q412.7,310.2 416,308.9M409.4,310.8 Q412.7,312.2 416,310.8M409.4,312.8 Q412.7,314.1 416,312.8M409.4,314.7 Q412.7,316 416,314.7M409.4,316.7 Q412.7,318 416,316.7M409.4,318.6 Q412.7,319.9 416,318.6M409.4,320.5 Q412.7,321.9 416,320.5"/>
<path class="g" d="M400.6,338.6 V343.4 L402.9,345.4 L404.6,355.4 Q413,360.4 421.6,355.4 L423.2,345.4 L425.4,343.4 V338.6Z" style="fill:#c6c6c6"/>
<path class="l" d="M402.9,345.4 Q413,351 423.2,345.4 M400.6,343.2 Q413,350 425.4,343.2"/>
<ellipse class="g" style="fill:#bdbdbd" cx="413" cy="338.4" rx="12.4" ry="6"/>
<ellipse class="g" style="fill:#d6d6d6" cx="413" cy="338.8" rx="10.2" ry="4.6"/>
<path class="ld" d="M412.7,325 V340 M412.7,358 V366"/>
<path class="g2" d="M405.4,400.6 V402.6 Q412.7,409 420,402.6 V400.6Z"/>
<ellipse class="g" cx="412.7" cy="400.6" rx="7.3" ry="4.3"/>
<ellipse class="o" cx="412.7" cy="400.2" rx="3.6" ry="2"/>
<path class="o" d="M399.1,430.5 L410.5,421.8 L427.5,429.3 L427.5,444 L424,449 Q423,455.5 417.3,456.6 Q413,456.6 412.6,451 L412,447 Q409,446 408,449 L408.8,455.6 Q406.5,459.6 403,457 L401.4,449.8 Z"/>
<path class="l" d="M399.1,430.5 L415,437.3 L427.5,429.3 M415,437.3 L414.5,447 M403,434 L403.6,443.6 Q406,446.5 408,449 M421.6,434 V446"/>
<ellipse class="o" cx="412.7" cy="428.8" rx="3.1" ry="2"/>
<ellipse class="o" cx="405.6" cy="452.2" rx="1.6" ry="2.6" transform="rotate(10 405.6 452.2)"/>
<ellipse class="o" cx="418.4" cy="450.6" rx="1.9" ry="3" transform="rotate(10 418.4 450.6)"/>
<ellipse class="o" cx="351.6" cy="414.2" rx="1.6" ry="4" transform="rotate(30.1 351.6 414.2)"/>
<path class="o" d="M349.6,417.7 L363.6,425.8 L367.6,418.8 L353.6,410.7Z" style="stroke:none"/>
<path class="l" d="M349.6,417.7 L363.6,425.8 M353.6,410.7 L367.6,418.8"/>
<ellipse class="o" cx="365.6" cy="422.3" rx="1.6" ry="4" transform="rotate(30.1 365.6 422.3)"/>
<ellipse class="o" cx="350.6" cy="413.6" rx="2.2" ry="5.2" transform="rotate(30 350.6 413.6)"/>
<ellipse class="o" cx="362.4" cy="419.8" rx="1.2" ry="1.6" transform="rotate(30 362.4 419.8)"/>
<path class="l" d="M347.6,432.4 L340,435 Q336.6,435.6 336.8,437.2 Q337.4,438.4 340,437.2 L348,433.4" style="stroke:#666"/>
<ellipse class="o" cx="454.1" cy="224.6" rx="6.6" ry="3.6"/>
<ellipse class="o" cx="454.1" cy="224.6" rx="5" ry="2.4"/>
<path class="l" d="M454.1,228 V234"/>
<path class="l" d="M449.4,234 V263.6 M459,233.6 V263" style="stroke:#888;stroke-width:.6"/>
<path class="l" d="M449.4,234.8 Q454.1,236.4 459,233.6M449.4,236.9 Q454.1,238.5 459,235.7M449.4,238.9 Q454.1,240.5 459,237.7M449.4,241 Q454.1,242.6 459,239.8M449.4,243.1 Q454.1,244.7 459,241.9M449.4,245.2 Q454.1,246.8 459,244M449.4,247.2 Q454.1,248.8 459,246M449.4,249.3 Q454.1,250.9 459,248.1M449.4,251.4 Q454.1,253 459,250.2M449.4,253.4 Q454.1,255 459,252.2M449.4,255.5 Q454.1,257.1 459,254.3M449.4,257.6 Q454.1,259.2 459,256.4M449.4,259.7 Q454.1,261.3 459,258.5M449.4,261.7 Q454.1,263.3 459,260.5M449.4,263.8 Q454.1,265.4 459,262.6" style="stroke:#444;stroke-width:.9"/>
<path class="o" d="M451,271 H457.4 V276.5 H451Z"/>
<path class="o" d="M448.6,277.4 Q454,274.6 459.4,277.4 V308.6 Q454,312.6 448.6,308.6Z"/>
<path class="l" d="M448.6,281 Q454,284 459.4,281 M448.6,284.6 Q454,287.6 459.4,284.6 M448.6,298 Q454,301 459.4,298 M448.6,301.6 Q454,304.6 459.4,301.6"/>
<path class="t" d="M451.6,286.6 V297.6 M456.6,286.6 V297.6"/>
</g>
<g id="parts_right">
<path class="o" d="M826,233.5C829.6,232.9 841,231.3 847.7,230.2C854.4,229.1 860.3,228 866,226.8C871.7,225.6 877.3,224.2 881.8,223C886.3,221.8 889.8,219.7 893.2,219.3C896.6,218.9 899.3,219 902.3,220.6C905.3,222.2 909.5,226.1 911.4,228.7C913.2,231.3 913.6,233.4 913.4,236C913.2,238.6 911.5,241.4 910.3,244C909.1,246.6 908.2,249.1 906.4,251.5C904.6,253.9 901.8,257 899.5,258.4C897.2,259.8 894.6,260.2 892.5,259.9C890.4,259.6 888.7,257.4 886.6,256.6C884.5,255.9 882.5,255.7 879.7,255.4C876.9,255.1 874.8,254.9 869.8,255C864.8,255.1 855.6,255.1 850,256C844.4,256.9 840.8,258.8 836.4,260.4C832,262 827.6,264.3 823.9,265.7C820.2,267.1 815.6,268 814,268.5L806,268 L806,240Z"/>
<path class="t" d="M829.5,236C832.9,235.5 843.6,234.1 850,233C856.4,231.9 862.3,230.8 868,229.6C873.7,228.4 880,226.7 884,225.6C888,224.5 890.7,223.4 892,223"/>
<path class="t" d="M884,253C881.7,252.9 875.3,252.3 870,252.4C864.7,252.5 857.3,252.6 852,253.4C846.7,254.2 842.7,255.8 838,257.4C833.3,259 826.3,262.1 824,263"/>
<path class="l" d="M894.6,224.6 Q886.6,231 885.6,243 Q885,251 888.6,256.6 M897.6,226 Q889.6,232 888.4,243.6 Q887.6,251.6 891,257.6" style="stroke:#aaa"/>
<ellipse class="o" cx="900.4" cy="243.1" rx="7.4" ry="11.6" transform="rotate(20 900.4 243.1)"/>
<path class="l" d="M903,232.6 Q896,238 893.6,248.6 M899,236 L900.6,242"/>
<ellipse class="o" cx="855.2" cy="245.6" rx="2.5" ry="3.6" transform="rotate(18 855.2 245.6)"/>
<path class="o" d="M767.2,282.2L807.2,268.5L806.3,297.5L775.8,312.7L767.2,310.8L766.2,307L770.6,307L770.6,303.8L766.2,303.2L766.2,284Z"/>
<path class="l" d="M775.8,312.7 L775.4,287 L807.2,271.6 M775.4,287 L767.2,283.4"/>
<path class="o" d="M785.3,192.6L780.5,195.5L777.7,204L764.3,210.7L759.6,215.5L754.8,229.8L741.4,227.9L737.6,232.7L738.6,240.3L741.4,247.9L742.4,255.5L748.1,260.3L750,256.5L751,265L754.8,272.7L758.6,276.5L765.3,278.4L767.2,282.2L778,285.6L789.8,279L807.2,270.8L813.9,273.7L829.1,263.2L826,250L825.3,236.5L829.1,232.7L828.2,221.2L823.4,215.5L819.6,216.5L815.8,210.7L811,207.9L806.3,210.7L804.4,208.8L792.9,197.4L789,193.4Z"/>
<path class="l" d="M758.6,213.6L798.6,226L792.9,257.4L753.8,241.2Z"/>
<path class="l" d="M759.8,217L782.4,226L780.5,242.2L755.6,234Z"/>
<path class="t" d="M762,219.6 L758.6,233 M781,229 L779.6,239.6 M760,218.6 L781,227"/>
<path class="l" d="M764.3,210.7 L777,213 L798.6,226 M777.7,204 L788,211.8 M798.6,226 L803.4,226 L804.4,208.8 M803.4,226 L825.3,234.6 M803.4,226 L801,259.4"/>
<path class="t" d="M777,213 L788,211.8 M790.6,224.6 L787,254 M795,227 L790.6,256.6"/>
<path class="l" d="M804.4,247.9 Q806,243 810.1,240.3 Q814,237 819.6,236.5 L825.3,236.5 M819.6,249.8 L817.7,257.4 L806.3,259.4 M815.8,263.2 L807.2,265 M801,259.4 L806.3,259.4 M804.4,247.9 L803.6,259.4 M819.6,236.5 L819.6,249.8"/>
<path class="o" d="M788.2,203.1L791,201.2L803.4,210.7L802.5,217.4L797.7,219.3L788.2,211.7Z"/>
<path class="l" d="M791,201.2 L791.4,209 L788.2,211.7 M791.4,209 L798.6,214.6 L797.7,219.3 M798.6,214.6 L803.4,210.7 M794.6,206V211.6"/>
<ellipse class="o" cx="813.9" cy="217.4" rx="2" ry="3.5" transform="rotate(18 813.9 217.4)"/>
<ellipse class="o" cx="822.5" cy="222.2" rx="2" ry="3.5" transform="rotate(18 822.5 222.2)"/>
<path class="t" d="M809.4,209.6 Q807,216 810,222.6 M818.4,214.6 Q816.2,221 819,227"/>
<path class="l" d="M741.4,227.9 L743,232 L744,246 L748,253 M737.6,232.7 L743,232 M754.8,229.8 L753.8,241.2"/>
<ellipse class="o" cx="740.4" cy="238.6" rx="1.7" ry="3"/>
<path class="o" d="M751,252.7L755,250.4L760.5,251.7L791,265L793.6,271.6L791,279.6L783,284L777,283L759.6,275.6L753.4,268.5Z"/>
<path class="l" d="M760.5,251.7 L758,257.6 L758.6,274.6 M758,257.6 L751,255 M758,257.6 L781.6,268 M792.9,257.4 L801,259.4 M753.8,241.2 L751,252.7"/>
<ellipse class="o" cx="785.3" cy="274.6" rx="4.8" ry="6.6" transform="rotate(20 785.3 274.6)"/>
<ellipse class="o" cx="783.6" cy="274.2" rx="3.8" ry="5.6" transform="rotate(20 783.6 274.2)"/>
<path class="t" d="M777.6,270.6 L786,268.4 M781,281.6 L790,279.4"/>
<path class="o" d="M752.4,254L756.6,252.4L758.8,255.4L757.8,262L753.8,262.8L751.6,259Z"/>
<path class="t" d="M755,254.4 L754.8,262"/>
<ellipse class="o" cx="737" cy="172.6" rx="0.9" ry="2.3" transform="rotate(29 737 172.6)"/>
<path class="o" d="M735.9,174.6 L771.5,194.3 L773.7,190.3 L738.1,170.6Z" style="stroke:none"/>
<path class="l" d="M735.9,174.6 L771.5,194.3 M738.1,170.6 L773.7,190.3"/>
<ellipse class="o" cx="772.6" cy="192.3" rx="0.9" ry="2.3" transform="rotate(29 772.6 192.3)"/>
<ellipse class="g" cx="729.4" cy="168.2" rx="1.4" ry="3.5" transform="rotate(30.3 729.4 168.2)"/>
<path class="g" d="M727.6,171.2 L734.8,175.4 L738.4,169.4 L731.2,165.2Z" style="stroke:none"/>
<path class="l" d="M727.6,171.2 L734.8,175.4 M731.2,165.2 L738.4,169.4"/>
<ellipse class="g" cx="736.6" cy="172.4" rx="1.4" ry="3.5" transform="rotate(30.3 736.6 172.4)"/>
<path class="t" d="M728.4,171.6 Q731.9,169.7 731.9,165.6M729.8,172.5 Q733.4,170.5 733.3,166.4M731.2,173.3 Q734.8,171.4 734.8,167.3M732.7,174.2 Q736.3,172.2 736.2,168.1M734.1,175 Q737.7,173 737.6,169"/>
<ellipse class="g" cx="716.2" cy="160.8" rx="1.6" ry="3.9" transform="rotate(32 716.2 160.8)"/>
<path class="g" d="M714.1,164.1 L720.5,168.1 L724.7,161.5 L718.3,157.5Z" style="stroke:none"/>
<path class="l" d="M714.1,164.1 L720.5,168.1 M718.3,157.5 L724.7,161.5"/>
<ellipse class="g" cx="722.6" cy="164.8" rx="1.6" ry="3.9" transform="rotate(32 722.6 164.8)"/>
<path class="t" d="M714.8,164.5 Q718.8,162.4 718.9,157.9M716.1,165.3 Q720.1,163.2 720.2,158.7M717.3,166.1 Q721.4,164 721.5,159.5M718.6,166.9 Q722.7,164.8 722.7,160.3M719.9,167.7 Q723.9,165.6 724,161.1"/>
<path class="o" d="M774.4,148L776,143.6L780,141L785.6,140.6L795.2,134L798.8,134.6L806,138.8L808.4,141.8L816.8,144.2L821.6,147.2L824.6,149.6L828.8,152L829.4,156.2L827.6,161L824,165.6L818,167.6L810.8,165.2L802.4,161.6L794,156.8L786.8,153.2L782,155.6L778.4,155L775.4,152.6Z"/>
<path class="l" d="M806,138.8 L801.8,159.8 M809,142 L804.8,161.4 M788,143 L797.6,135.8 M785.6,140.6 L788,143 L786.8,153.2 M808.4,141.8 L806.4,145 M816.8,144.2 L815.6,147.6 L809,145.6 M821.6,147.2 L820.4,150.6"/>
<ellipse class="l" cx="780.2" cy="148.2" rx="5.2" ry="6.8" transform="rotate(20 780.2 148.2)"/>
<ellipse class="o" cx="781" cy="148.5" rx="2.3" ry="3" transform="rotate(20 781 148.5)"/>
<path class="o" d="M816.4,174.6L818,170L822,167.4L826.4,165.2L834.8,159.8L838.5,161L844.5,162.2L849.3,164.6L855.3,168.8L858.9,169.4L866.1,175.4L866.7,183.8L869.1,187.4L866.1,201.9L862.5,199.5L858.9,194.7L846.9,190.4L837.2,185L828.8,179.6L824,182L820.4,181.6L817.4,179.2Z"/>
<path class="l" d="M834.8,159.8 L835.4,164.6 L828.8,170 L828.8,179.6 M835.4,164.6 L826.4,165.2 M858.9,194.7 L862,190.6 L866.4,192 M844.5,162.2 L843.6,165 M855.3,168.8 L854.4,171.6 M866.1,175.4 L864.6,178"/>
<ellipse class="l" cx="822.2" cy="174.8" rx="5.2" ry="6.8" transform="rotate(20 822.2 174.8)"/>
<ellipse class="o" cx="823" cy="175" rx="2.3" ry="3" transform="rotate(20 823 175)"/>
<ellipse class="o" cx="744.6" cy="380.4" rx="1.3" ry="3.3" transform="rotate(31.5 744.6 380.4)"/>
<path class="o" d="M742.9,383.2 L771.9,401 L775.3,395.4 L746.3,377.6Z" style="stroke:none"/>
<path class="l" d="M742.9,383.2 L771.9,401 M746.3,377.6 L775.3,395.4"/>
<ellipse class="o" cx="773.6" cy="398.2" rx="1.3" ry="3.3" transform="rotate(31.5 773.6 398.2)"/>
<path class="t" d="M744.1,383.9 Q747.5,382.1 747.5,378.3M745.7,384.9 Q749.1,383.1 749.1,379.2M747.3,385.8 Q750.7,384 750.7,380.2M748.9,386.8 Q752.3,385 752.3,381.1M750.5,387.7 Q753.9,385.9 753.9,382.1"/>
<ellipse class="g" cx="738.4" cy="377" rx="2.3" ry="6.6" transform="rotate(29.2 738.4 377)"/>
<path class="g" d="M735.2,382.8 L740.2,385.6 L746.6,374 L741.6,371.2Z" style="stroke:none"/>
<path class="l" d="M735.2,382.8 L740.2,385.6 M741.6,371.2 L746.6,374"/>
<ellipse class="g" cx="743.4" cy="379.8" rx="2.3" ry="6.6" transform="rotate(29.2 743.4 379.8)"/>
<ellipse class="o" cx="827.3" cy="359.8" rx="1" ry="2.6" transform="rotate(31.7 827.3 359.8)"/>
<path class="o" d="M825.9,362 L845,373.8 L847.8,369.4 L828.7,357.6Z" style="stroke:none"/>
<path class="l" d="M825.9,362 L845,373.8 M828.7,357.6 L847.8,369.4"/>
<ellipse class="o" cx="846.4" cy="371.6" rx="1" ry="2.6" transform="rotate(31.7 846.4 371.6)"/>
<ellipse class="o" cx="821.6" cy="356.6" rx="1.5" ry="4.3" transform="rotate(30.3 821.6 356.6)"/>
<path class="o" d="M819.4,360.3 L824.2,363.1 L828.6,355.7 L823.8,352.9Z" style="stroke:none"/>
<path class="l" d="M819.4,360.3 L824.2,363.1 M823.8,352.9 L828.6,355.7"/>
<ellipse class="o" cx="826.4" cy="359.4" rx="1.5" ry="4.3" transform="rotate(30.3 826.4 359.4)"/>
<ellipse class="g" cx="816.6" cy="353.8" rx="1.2" ry="3.1" transform="rotate(28.8 816.6 353.8)"/>
<path class="g" d="M815.1,356.5 L819.1,358.7 L822.1,353.3 L818.1,351.1Z" style="stroke:none"/>
<path class="l" d="M815.1,356.5 L819.1,358.7 M818.1,351.1 L822.1,353.3"/>
<ellipse class="g" cx="820.6" cy="356" rx="1.2" ry="3.1" transform="rotate(28.8 820.6 356)"/>
<ellipse class="g2" cx="872.6" cy="390.2" rx="1.9" ry="4.8" transform="rotate(30.1 872.6 390.2)"/>
<path class="g2" d="M870.2,394.4 L880.2,400.2 L885,391.8 L875,386Z" style="stroke:none"/>
<path class="l" d="M870.2,394.4 L880.2,400.2 M875,386 L885,391.8"/>
<ellipse class="g2" cx="882.6" cy="396" rx="2.2" ry="5.4" transform="rotate(29.9 882.6 396)"/>
<path class="g2" d="M879.9,400.7 L887.9,405.3 L893.3,395.9 L885.3,391.3Z" style="stroke:none"/>
<path class="l" d="M879.9,400.7 L887.9,405.3 M885.3,391.3 L893.3,395.9"/>
<ellipse class="g2" cx="890.6" cy="400.6" rx="2.2" ry="5.4" transform="rotate(29.9 890.6 400.6)"/>
<path class="t" d="M882.4,402.1 Q887.9,399 887.8,392.8M884.6,403.4 Q890.1,400.3 890,394M886.8,404.6 Q892.3,401.6 892.2,395.3"/>
<ellipse class="g2" cx="866.8" cy="387" rx="2.6" ry="7.3" transform="rotate(30.3 866.8 387)"/>
<path class="g2" d="M863.1,393.3 L867.9,396.1 L875.3,383.5 L870.5,380.7Z" style="stroke:none"/>
<path class="l" d="M863.1,393.3 L867.9,396.1 M870.5,380.7 L875.3,383.5"/>
<ellipse class="g2" cx="871.6" cy="389.8" rx="2.6" ry="7.3" transform="rotate(30.3 871.6 389.8)"/>
<path class="l" d="M864.3,394 Q871.8,389.9 871.7,381.4M866.7,395.4 Q874.2,391.3 874.1,382.8"/>
<ellipse class="g2" cx="906.2" cy="408.2" rx="6.8" ry="8.5" transform="rotate(20 906.2 408.2)"/>
<ellipse class="g2" cx="907.8" cy="408.9" rx="6.4" ry="8" transform="rotate(20 907.8 408.9)"/>
<ellipse class="g2" cx="909.2" cy="409.4" rx="4.6" ry="6" transform="rotate(20 909.2 409.4)"/>
<ellipse class="g" cx="909.8" cy="409.7" rx="3.3" ry="4.7" transform="rotate(20 909.8 409.7)"/>
<path class="o" d="M736.4,446.6L743,441.2L743.6,438.8L747.8,437L748.4,438.8L752.6,437L761,443L763.4,444.8L773.6,452L773,453.8L762.2,459.8L761,462.8L753.2,458.6L752,454.4L758.6,449.6L755.6,446L747.2,452L746,453.2L737.6,448.4Z"/>
<path class="l" d="M743,441.2 L746.6,450.8 M736.4,446.6 L745.4,451.4 L746,453.2 M752,454.4 L761.6,459.4 M758.6,449.6 L763.4,444.8 M761,443 L757,447.6 M766,451.4 L770.6,452.4 M768.6,449.8 L765.6,453.8"/>
<circle cx="749.6" cy="444.2" r="1" fill="#333"/>
<ellipse class="o" cx="820.4" cy="455.8" rx="7.6" ry="11.2" transform="rotate(27 820.4 455.8)"/>
<path class="o" d="M825.5,445.8L847.1,457.6L836.9,477.6L815.3,465.8Z" style="stroke:none"/>
<path class="l" d="M825.5,445.8 L847.1,457.6 M815.3,465.8 L836.9,477.6"/>
<ellipse cx="842" cy="467.6" rx="7.6" ry="11.2" transform="rotate(27 842 467.6)" fill="#fff" stroke="#c4c4c4" stroke-width="1.6"/>
<path class="l" d="M847.1,457.6 A7.6,11.2 27 0 1 836.9,477.6"/>
<ellipse cx="859" cy="479" rx="8.6" ry="12.6" transform="rotate(27 859 479)" fill="none" stroke="#4c4c4c" stroke-width="4.3"/>
<ellipse cx="859" cy="479" rx="8.6" ry="12.6" transform="rotate(27 859 479)" fill="none" stroke="#9c9c9c" stroke-width="2.1"/>
<ellipse cx="879.5" cy="491.6" rx="8.6" ry="12.6" transform="rotate(27 879.5 491.6)" fill="none" stroke="#4c4c4c" stroke-width="4.3"/>
<ellipse cx="879.5" cy="491.6" rx="8.6" ry="12.6" transform="rotate(27 879.5 491.6)" fill="none" stroke="#9c9c9c" stroke-width="2.1"/>
<path class="ld" d="M841,468.2 L849,472.6 M858,477.6 L868.6,483.6 M879,490 L891,497"/>
<path class="o" d="M734.6,480.8L737,478.4L758.6,490.4L759.8,494.6L764.6,495.8L769.4,500.6L767,502.4L762.2,500L759.8,501.2L757.4,499.4L758,495.8L753.8,494.6L740.6,486.2L737.6,488.6L735.2,486.8Z"/>
<path class="g" d="M738.6,481.6L757.6,492L757.4,494.6L752.6,492.6L741,485Z" style="stroke-width:.8"/>
<path class="l" d="M744,486 Q750,490.6 755.6,492.6"/>
</g>
<g id="parts_pedal">
<path class="o" d="M269.5,567.7L281,557.5L287.7,557.5L292,559.6L294.8,563.2L294.8,570L291.6,573L287.7,574.6L276.4,572.6Z"/>
<ellipse class="o" cx="287.3" cy="566.6" rx="2.7" ry="3.1"/>
<path class="t" d="M272,570.4 Q279,572 283.6,569 M281,557.5 Q280,562 283,566"/>
<path class="o" d="M383,502L409,509.6L414,513L409,534L405,533L381,526Z"/>
<path class="t" d="M395.7,510.6 L392.3,525.4 M384,505.6 L408,512.6 M383,523 L405,530"/>
<ellipse class="o" cx="412.4" cy="523.2" rx="8.1" ry="11.9" transform="rotate(10 412.4 523.2)"/>
<ellipse class="o" cx="415.6" cy="522.9" rx="8.1" ry="12" transform="rotate(10 415.6 522.9)"/>
<ellipse class="o" cx="416.2" cy="523" rx="4.5" ry="7" transform="rotate(10 416.2 523)"/>
<path class="o" d="M353.6,482.5C351,482.9 342.2,483.7 337.7,484.8C333.2,485.9 331.3,486.9 326.4,489.3C321.5,491.8 314.3,495.9 308.2,499.5C302.1,503.1 295.3,506.9 290,510.9C284.7,514.9 280.6,519 276.4,523.4C272.2,527.8 268.4,532.6 265,537C261.6,541.4 259.3,544.8 255.9,549.5C252.5,554.2 248.7,560.2 244.5,565.5C240.3,570.8 235.8,576.5 230.9,581.4C226,586.3 220.1,591.2 215,595C209.9,598.8 202.7,602.6 200.2,604.1L203.6,614.3C207.4,612.2 219.2,606.7 226.4,601.8C233.6,596.9 240.4,590.1 246.8,584.8C253.2,579.5 259.3,574.5 265,570C270.7,565.5 276.8,561.3 281,557.5C285.2,553.7 287,550.3 290,547.3C293,544.3 294.4,542.9 299,539.3C303.6,535.7 311.2,529.7 317.3,525.7C323.4,521.7 330.6,518.1 335.5,515.5C340.4,512.9 343.4,511.1 346.8,509.8C350.2,508.6 354.5,508.3 356,508L368,527 L380,510 L366,488Z"/>
<path class="l" d="M353.9,484.4C351.3,484.8 342.6,485.5 338.2,486.6C333.7,487.7 332.1,488.6 327.2,491C322.4,493.4 315.2,497.6 309.2,501.1C303.2,504.7 296.4,508.5 291.1,512.4C285.9,516.3 281.9,520.4 277.8,524.7C273.7,529 269.9,533.9 266.5,538.2C263.1,542.5 260.9,545.9 257.4,550.6C254,555.4 250.2,561.3 246,566.7C241.8,572 237.2,577.8 232.2,582.7C227.3,587.7 221.3,592.7 216.1,596.5C211,600.4 203.7,604.2 201.2,605.7"/>
<path class="l" d="M202.5,608.6C206.1,606.5 217,600.9 224,596C231,591.1 238.8,583.9 244.5,579C250.2,574.1 253.3,570.9 258.2,566.6C263.1,562.3 268.7,557.7 274,553C279.3,548.3 284.3,543 290,538.2C295.7,533.5 302.1,528.5 308.2,524.5C314.3,520.5 321.1,516.9 326.4,514.3C331.7,511.6 336.2,510 340,508.6C343.8,507.2 347.5,506.4 349,506"/>
<path class="t" d="M202.9,610.7C206.6,608.6 217.8,603 224.9,598.1C231.9,593.2 239.4,586.1 245.3,581.1C251.3,576 255.4,572.2 260.6,567.8C265.8,563.4 271.6,559 276.5,554.6C281.4,550.2 285.3,545.6 290,541.5C294.7,537.3 299.4,533.7 304.9,529.8C310.4,526 317.5,521.5 323.1,518.4C328.7,515.3 334.2,512.9 338.4,511.1C342.6,509.2 346.6,508 348.2,507.4"/>
<path class="t" d="M203.2,612.5C207,610.4 218.5,604.9 225.6,599.9C232.8,595 239.9,588.1 246.1,582.9C252.3,577.8 257.4,573.4 262.8,568.9C268.3,564.4 274.2,560.1 278.8,556.1C283.3,552 286.1,548 290,544.4C293.9,540.8 296.9,538.3 301.9,534.6C307,530.8 314.4,525.6 320.2,522.1C326,518.5 332.4,515.5 336.9,513.3C341.5,511 345.7,509.4 347.5,508.6"/>
<path class="l" d="M248.2,568.2C250.1,565.5 256.2,556.9 259.6,552.2C263,547.5 265.3,544.1 268.6,539.8C272,535.6 275.7,530.8 279.7,526.6C283.7,522.4 287.6,518.4 292.8,514.6C297.9,510.7 304.6,507 310.5,503.5C316.5,499.9 323.6,495.8 328.5,493.4C333.3,491 337.6,489.8 339.4,489.1"/>
<path class="l" d="M246.2,580.9C248.5,578.9 255,572.9 259.9,568.6C264.8,564.2 270.4,559.7 275.7,554.9C281,550.2 286,544.9 291.7,540.2C297.3,535.5 303.6,530.6 309.6,526.7C315.6,522.7 322.3,519.2 327.6,516.6C332.8,514 338.8,511.9 341,511"/>
<path class="o" d="M326.4,493 L347,488.4 Q353.6,488 353.4,492.6 Q353,497 349,501 L344,505.6 L326.6,511.6 Z"/>
<path class="t" d="M328.6,495.6 L346,491.6 Q350,491.4 349.6,494.6 L343,503 L328.8,508.6"/>
<path class="t" d="M288.6,512 L291,515.6 M263.6,539 L267,541.6 M243,567.6 L247,570 M289,539.6 L295,545.6 M293,536 L299,542.6"/>
<path class="o" d="M356,489 Q352,497 351,508 Q351.6,517 356,520.6 L368.6,527 L383,520 L384.6,504 L381,499.6 L373.1,496 L369.7,492.2 L365.2,488.2 Q360,486 356,489Z"/>
<path class="t" d="M359.6,489.6 Q355.6,499 355.4,509 Q355.8,516 359,519 M364,487.6 Q359.6,499 360,512 Q360.6,519 363.4,523 M351.6,503 L356,504 M352,512.6 L356.6,512 M368,487.6 Q364,496 364.6,508"/>
<ellipse class="o" cx="373.4" cy="513.6" rx="10.6" ry="13.2" transform="rotate(10 373.4 513.6)"/>
<ellipse class="o" cx="375.2" cy="514.3" rx="8.9" ry="11.6" transform="rotate(10 375.2 514.3)"/>
<ellipse class="o" cx="375.8" cy="514.5" rx="7.2" ry="9.8" transform="rotate(10 375.8 514.5)"/>
<path class="o" d="M166,609L188.9,595.2L196.2,597L199,602.6L201.7,606.2L203.6,614.3L192.6,624.6L183.4,628.3L170.6,627.3L166,624.6Z"/>
<path class="l" d="M166,609 L170.6,610.8 L191.7,597.6 L196.2,597 M170.6,610.8 L170.6,627.3 M199,602.6 L201.2,610"/>
<ellipse class="o" cx="183.4" cy="615.4" rx="4.9" ry="6.9" transform="rotate(25 183.4 615.4)"/>
<path class="t" d="M180.6,610.6 Q178.6,615.6 181,621"/>
<path class="o" d="M122.8,575L126.5,573.2L128.3,575L132,571.4L133.8,575L138.4,572.3L140.2,575L143,573.2L144.8,580.6L149.4,577.8L151.3,583.3L155,581.5L155.9,585.2L159.5,583.3L163.2,583.3L163.6,593.4L142.1,609.9L137.5,608L134.8,609L128.3,600.7L123.8,583.3Z"/>
<path class="l" d="M137.5,592.5 L163.2,583.3 M137.5,592.5 L137.5,608 M142.1,594 L142.1,609.9 M137.5,592.5 L132,588 L126,577 M132,588 L131,597 M126.5,580 L129.6,582 M127.6,587 L131,588.6 M129.6,594 L133,595 M134.8,609 L134.6,598 M132,571.4 L133,579 M138.4,572.3 L138.6,582 M143,573.2 L143,588 M136,586 Q139,583 143,584"/>
<ellipse class="o" cx="151.3" cy="598.9" rx="2.3" ry="2.7"/>
<path class="g" d="M121.4,533.4L124.2,530.6L128.8,530.6L131.6,533.6L131.4,538.4L128.6,540.8L124,540.6L121.4,537.8Z"/>
<ellipse class="o" cx="127.6" cy="535.2" rx="2.7" ry="3.1" transform="rotate(20 127.6 535.2)"/>
<path class="t" d="M124.2,530.6 L125.4,534 L124,540.6 M121.4,533.4 L125.4,534"/>
<ellipse class="o" cx="205" cy="624.8" rx="0.9" ry="2.3" transform="rotate(28.1 205 624.8)"/>
<path class="o" d="M203.9,626.8 L212.9,631.6 L215.1,627.6 L206.1,622.8Z" style="stroke:none"/>
<path class="l" d="M203.9,626.8 L212.9,631.6 M206.1,622.8 L215.1,627.6"/>
<path class="o" d="M213,626.6 L216.6,625 L220,638.6 L215,633.6Z"/>
<ellipse class="o" cx="218.3" cy="632" rx="3.3" ry="6.9" transform="rotate(-14 218.3 632)"/>
<ellipse class="o" cx="218.3" cy="632" rx="1.1" ry="1.7" transform="rotate(-14 218.3 632)"/>
<ellipse class="g2" cx="147.3" cy="388.6" rx="8.1" ry="14.4" transform="rotate(24.9 147.3 388.6)"/>
<ellipse class="o" cx="148.4" cy="389.1" rx="8.1" ry="14.4" transform="rotate(24.8 148.4 389.1)"/>
<path class="o" d="M142.3,402.2 L144.7,403.3 L156.8,377.1 L154.5,376Z" style="stroke:none"/>
<path class="l" d="M142.3,402.2 L144.7,403.3 M154.5,376 L156.8,377.1"/>
<ellipse class="o" cx="150.8" cy="390.2" rx="8.1" ry="14.4" transform="rotate(24.8 150.8 390.2)"/>
<ellipse class="g2" cx="150.8" cy="390.2" rx="5.8" ry="10.4" transform="rotate(24.8 150.8 390.2)"/>
<path class="g2" d="M146.4,399.6 L148.6,400.6 L157.3,381.8 L155.1,380.8Z" style="stroke:none"/>
<path class="l" d="M146.4,399.6 L148.6,400.6 M155.1,380.8 L157.3,381.8"/>
<ellipse class="g2" cx="152.9" cy="391.2" rx="5.8" ry="10.4" transform="rotate(24.8 152.9 391.2)"/>
<ellipse class="o" cx="152.9" cy="391.2" rx="6.5" ry="11.6" transform="rotate(24.8 152.9 391.2)"/>
<path class="o" d="M148.1,401.7 L150.8,403 L160.5,381.9 L157.8,380.7Z" style="stroke:none"/>
<path class="l" d="M148.1,401.7 L150.8,403 M157.8,380.7 L160.5,381.9"/>
<ellipse class="o" cx="155.7" cy="392.5" rx="6.5" ry="11.6" transform="rotate(24.8 155.7 392.5)"/>
<ellipse class="g2" cx="155.7" cy="392.5" rx="5.4" ry="9.6" transform="rotate(24.8 155.7 392.5)"/>
<path class="g2" d="M151.6,401.2 L153.3,401.9 L161.3,384.5 L159.7,383.7Z" style="stroke:none"/>
<path class="l" d="M151.6,401.2 L153.3,401.9 M159.7,383.7 L161.3,384.5"/>
<ellipse class="g2" cx="157.3" cy="393.2" rx="5.4" ry="9.6" transform="rotate(24.8 157.3 393.2)"/>
<ellipse class="o" cx="157.3" cy="393.2" rx="6.3" ry="11.2" transform="rotate(24.8 157.3 393.2)"/>
<path class="o" d="M152.6,403.4 L155.5,404.7 L164.9,384.4 L162,383.1Z" style="stroke:none"/>
<path class="l" d="M152.6,403.4 L155.5,404.7 M162,383.1 L164.9,384.4"/>
<ellipse class="o" cx="160.2" cy="394.6" rx="6.3" ry="11.2" transform="rotate(24.8 160.2 394.6)"/>
<ellipse class="g2" cx="160.2" cy="394.6" rx="5.2" ry="9.2" transform="rotate(24.8 160.2 394.6)"/>
<path class="g2" d="M156.3,402.9 L157.8,403.6 L165.5,386.9 L164.1,386.2Z" style="stroke:none"/>
<path class="l" d="M156.3,402.9 L157.8,403.6 M164.1,386.2 L165.5,386.9"/>
<ellipse class="g2" cx="161.6" cy="395.2" rx="5.2" ry="9.2" transform="rotate(24.8 161.6 395.2)"/>
<ellipse class="o" cx="161.6" cy="395.2" rx="5.9" ry="10.6" transform="rotate(24.8 161.6 395.2)"/>
<path class="o" d="M157.2,404.9 L159.4,405.9 L168.3,386.6 L166.1,385.6Z" style="stroke:none"/>
<path class="l" d="M157.2,404.9 L159.4,405.9 M166.1,385.6 L168.3,386.6"/>
<ellipse class="o" cx="163.8" cy="396.2" rx="5.9" ry="10.6" transform="rotate(24.8 163.8 396.2)"/>
<ellipse class="o" cx="163.8" cy="396.2" rx="4.3" ry="7.6" transform="rotate(24.8 163.8 396.2)"/>
<path class="o" d="M160.6,403.1 L165.5,405.4 L171.9,391.6 L167,389.3Z" style="stroke:none"/>
<path class="l" d="M160.6,403.1 L165.5,405.4 M167,389.3 L171.9,391.6"/>
<ellipse class="o" cx="168.7" cy="398.5" rx="4.3" ry="7.6" transform="rotate(24.8 168.7 398.5)"/>
<ellipse class="o" cx="168.7" cy="398.5" rx="3.4" ry="6" transform="rotate(24.8 168.7 398.5)"/>
<path class="o" d="M166.2,404 L179.1,409.9 L184.1,399 L171.2,393.1Z" style="stroke:none"/>
<path class="l" d="M166.2,404 L179.1,409.9 M171.2,393.1 L184.1,399"/>
<ellipse class="o" cx="181.6" cy="404.5" rx="3.4" ry="6" transform="rotate(24.8 181.6 404.5)"/>
<ellipse class="t" cx="150.8" cy="390.2" rx="6.9" ry="12.4" transform="rotate(24.9 150.8 390.2)"/>
<ellipse cx="194.8" cy="411.8" rx="6.6" ry="10" transform="rotate(27 194.8 411.8)" fill="none" stroke="#8a8a8a" stroke-width="3"/>
<ellipse cx="194.8" cy="411.8" rx="6.6" ry="10" transform="rotate(27 194.8 411.8)" fill="none" stroke="#fff" stroke-width="1.4"/>
<ellipse cx="209.3" cy="419.3" rx="6.6" ry="10" transform="rotate(27 209.3 419.3)" fill="none" stroke="#8a8a8a" stroke-width="3"/>
<ellipse cx="209.3" cy="419.3" rx="6.6" ry="10" transform="rotate(27 209.3 419.3)" fill="none" stroke="#fff" stroke-width="1.4"/>
<ellipse class="o" cx="471.6" cy="575.2" rx="11.2" ry="15" transform="rotate(20 471.6 575.2)"/>
<ellipse class="o" cx="472.9" cy="574.7" rx="11" ry="14.8" transform="rotate(20 472.9 574.7)"/>
<ellipse class="o" cx="473.3" cy="574.8" rx="4.3" ry="7.2" transform="rotate(20 473.3 574.8)"/>
<g transform="rotate(-21.8 377 631)">
<rect x="366.5" y="625.3" width="22" height="11.4" fill="#d9d9d9" stroke="none"/>
<path class="l" d="M367.4,636.7 Q370.6,631 367.4,625.3M369.1,636.7 Q372.3,631 369.1,625.3M370.8,636.7 Q374,631 370.8,625.3M372.6,636.7 Q375.8,631 372.6,625.3M374.3,636.7 Q377.5,631 374.3,625.3M376,636.7 Q379.2,631 376,625.3M377.7,636.7 Q380.9,631 377.7,625.3M379.4,636.7 Q382.6,631 379.4,625.3M381.2,636.7 Q384.4,631 381.2,625.3M382.9,636.7 Q386.1,631 382.9,625.3M384.6,636.7 Q387.8,631 384.6,625.3M386.3,636.7 Q389.5,631 386.3,625.3M388,636.7 Q391.2,631 388,625.3" style="stroke:#555;stroke-width:.8"/>
<path class="l" d="M366.5,625.3 H388.5 M367,636.7 H389" style="stroke-width:1"/>
<ellipse class="o" cx="367.4" cy="631" rx="3.3" ry="5.7"/>
<ellipse class="t" cx="367.6" cy="631" rx="2.1" ry="4.2"/>
</g>
<path class="l" d="M364.5,629.3 Q358,631 357.2,637.5 L358,642.4 Q360,644 362,643.2 L361.6,641 M366,628.6 Q360,631 359.6,637.6 L360,641" style="stroke:#555;stroke-width:.9"/>
<path class="l" d="M384.2,620.3 Q389,619 394,621 Q397.6,622.6 398,624.4 L396.5,626.4 M386,622 Q390,621 393.6,622.6 L395,625" style="stroke:#555;stroke-width:.9"/>
</g>
<g id="labels">
<path class="cl" d="M328,81.6 L330.2,97.5"/>
<path class="cl" d="M331.8,111.8 L333.4,126"/>
<path class="cl" d="M336,163.3 L338,175.6 L383,183.8 V192"/>
<path class="cl" d="M342,257 L372,275"/>
<path class="cl" d="M434.2,76 V150"/>
<path class="cl" d="M412.6,324 V336"/>
<path class="cl" d="M412.6,358 V396"/>
<path class="cl" d="M412.6,406 V423"/>
<path class="cl" d="M454,227 V234"/>
<path class="cl" d="M454,263 V271"/>
<path class="cl" d="M367,423 L401,443"/>
<path class="cl" d="M614,209 H620"/>
<path class="cl" d="M631,208 H637"/>
<path class="cl" d="M651,207 H657"/>
<path class="cl" d="M670,206 L686.6,205.5 L715,238 L741,239"/>
<path class="cl" d="M809.6,169.4 L798.8,202"/>
<path class="cl" d="M773.5,193 L783,198"/>
<path class="cl" d="M900,242.7 L980.5,288"/>
<path class="cl" d="M216.8,422 L327,486"/>
<path class="cl" d="M375,514.5 L462,566"/>
<path class="cl" d="M153,600 L168,608"/>
<path class="cl" d="M184,616 L206,626"/>
<path class="cl" d="M132,538.3 L141.2,543.9 V589"/>
<path class="dt" d="M71.5,666 V478.4 Q71.5,470.7 79,470.7 H426 Q433,470.7 433,477.6 V559.6 L262.4,666"/>
<path class="dt" d="M706,31 V527 Q706,533.6 713,533.6 H936 Q943,533.6 943,527 V172"/>
<path d="M943,258 V277" stroke="#fff" stroke-width="4" fill="none"/>
<path class="cl" d="M900,242.7 L980.5,288"/>
<path class="ld" d="M232.5,54 H239.5 L257,71"/>
<path class="ld" d="M296.8,96 H306 L323.9,103.9"/>
<path class="ld" d="M296,173 H303 L330,159"/>
<path class="ld" d="M166.2,259.8 H173.5 L199,236.5"/>
<path class="ld" d="M285,261.9 H292.5 L307,248.8"/>
<path class="ld" d="M491.6,86 H486.3 L446.5,95 M486.3,86 L440.6,121.4"/>
<path class="ld" d="M440.6,57 C465,60 485,67 501.6,67.6"/>
<path class="ld" d="M441.7,155 C465,160 485,168 501.6,167.7"/>
<path class="ld" d="M492,294.6 H484.6 L459.8,225.6 M484.6,294.6 L459.8,256 M484.6,294.6 L458.6,287.8 M484.6,294.6 L425.9,344.3"/>
<path class="ld" d="M485.5,387.7 H479.8 L420.7,399.8"/>
<path class="ld" d="M486.6,440.7 H481 L427.5,433.9"/>
<path class="ld" d="M324,400.5 H331 L348,412.3"/>
<path class="ld" d="M306,426 H312.7 C322,427 330,431 338.9,435"/>
<path class="ld" d="M122.5,358.9 H129.3 L144,378.9"/>
<path class="ld" d="M157.7,448.9 H165.7 L190.7,420.9 M165.7,448.9 L202,428.9"/>
<path class="ld" d="M101,556.5 H108 L123.6,541"/>
<path class="ld" d="M102.4,628.5 H110.8 L129.2,601.7"/>
<path class="ld" d="M187,646.3 H195.6 L206.9,632.8"/>
<path class="ld" d="M399.7,647.3 H393 Q390,646 388,642.6 L383.4,636.6"/>
<path class="ld" d="M502.5,540.2 H493.7 L481,560.7"/>
<path class="ld" d="M581,171 H588 L594.5,205"/>
<path class="ld" d="M617,158.4 H624 L626.8,201.6 M624,158.4 L661.6,198"/>
<path class="ld" d="M744.3,67.3 H735.2 L721.6,156.4"/>
<path class="ld" d="M783,89.3 H775 L751,179"/>
<path class="ld" d="M855,134.6 H846.9 L824,149 M846.9,134.6 L842.7,159.8"/>
<path class="ld" d="M904.5,165 H895.5 L879.5,224.5"/>
<path class="ld" d="M867,350.2 H859 L838.6,364.3"/>
<path class="ld" d="M785.2,371 H777.3 L758.6,383.6"/>
<path class="ld" d="M788.6,431 H780.7 L762.5,445"/>
<path class="ld" d="M788.6,489.3 H780.7 C775,490 770,493 765.9,495.5"/>
<path class="ld" d="M883.6,423.4 L885.2,405.2 M883.6,423.4 L900,411 M876.8,441.6 L865.9,465.5 M876.8,441.6 L885.2,478.4"/>
<path class="ld" d="M813.6,275 L824.5,333.6 M813.6,275 L834,333.6"/>
<path class="ld" d="M824.5,333.6 H720 V520.5 H929 V333.6 H834"/>
<path d="M509,300 V345" stroke="#fff" stroke-width="16" fill="none"/>
<path class="bk" d="M506,55.4 Q509.3,56.4 509.3,62 V240 Q509.3,245 515.4,247 Q509.3,249 509.3,254 V439 Q509.3,445 505,446.5" style="stroke-width:2.4"/>
<path class="bk" d="M705.7,28 Q709,26.5 712.5,28.5 L828,95.6 Q833,98.4 835.2,94.6 Q834.6,99.8 839.2,102.8 L939.5,163.5 Q943,166 943,170"/>
<path class="bk" d="M71.5,665.6 Q71.8,669.5 77,669.5 H160.5 Q166.4,669.7 167.5,674.2 Q168.6,669.7 174.5,669.5 H257.5 Q261.6,669.3 262.6,666.6" style="stroke-width:2"/>
<text transform="translate(225 58.9) scale(.94 1)" text-anchor="middle">8</text>
<text transform="translate(290 99.4) scale(.94 1)" text-anchor="middle">6</text>
<text transform="translate(290 175.9) scale(.94 1)" text-anchor="middle">6</text>
<text transform="translate(159 263.7) scale(.94 1)" text-anchor="middle">7</text>
<text transform="translate(274.5 266.1) scale(.94 1)" text-anchor="middle">30</text>
<text transform="translate(497.5 88.9) scale(.94 1)" text-anchor="middle">2</text>
<text transform="translate(524.5 251.9) scale(.94 1)" text-anchor="middle">1</text>
<text transform="translate(497.5 298.4) scale(.94 1)" text-anchor="middle">3</text>
<text transform="translate(491 391.9) scale(.94 1)" text-anchor="middle">4</text>
<text transform="translate(493 443.4) scale(.94 1)" text-anchor="middle">5</text>
<text transform="translate(318 403.4) scale(.94 1)" text-anchor="middle">9</text>
<text transform="translate(295 429.9) scale(.94 1)" text-anchor="middle">10</text>
<text transform="translate(113.5 361.9) scale(.94 1)" text-anchor="middle">15</text>
<text transform="translate(146.5 454.4) scale(.94 1)" text-anchor="middle">16</text>
<text transform="translate(91 558.9) scale(.94 1)" text-anchor="middle">12</text>
<text transform="translate(93.5 631.4) scale(.94 1)" text-anchor="middle">13</text>
<text transform="translate(177.6 649.1) scale(.94 1)" text-anchor="middle">14</text>
<text transform="translate(167 686.9) scale(.94 1)" text-anchor="middle">11</text>
<text transform="translate(408 650.4) scale(.94 1)" text-anchor="middle">17</text>
<text transform="translate(511 542.9) scale(.94 1)" text-anchor="middle">18</text>
<text transform="translate(570 174.1) scale(.94 1)" text-anchor="middle">19</text>
<text transform="translate(610.5 161.9) scale(.94 1)" text-anchor="middle">6</text>
<text transform="translate(753 71.4) scale(.94 1)" text-anchor="middle">21</text>
<text transform="translate(792 92.9) scale(.94 1)" text-anchor="middle">22</text>
<text transform="translate(841 91.9) scale(.94 1)" text-anchor="middle">20</text>
<text transform="translate(863.5 137.9) scale(.94 1)" text-anchor="middle">23</text>
<text transform="translate(913 167.9) scale(.94 1)" text-anchor="middle">24</text>
<text transform="translate(875.5 353.9) scale(.94 1)" text-anchor="middle">29</text>
<text transform="translate(794 374.9) scale(.94 1)" text-anchor="middle">26</text>
<text transform="translate(797.5 433.9) scale(.94 1)" text-anchor="middle">25</text>
<text transform="translate(879 437.4) scale(.94 1)" text-anchor="middle">28</text>
<text transform="translate(797 492.4) scale(.94 1)" text-anchor="middle">27</text>
<text class="tm" transform="translate(18.9,695.2) rotate(-90) scale(0.797,1)">TM 0615</text>
</g>
</svg>
</body></html>
